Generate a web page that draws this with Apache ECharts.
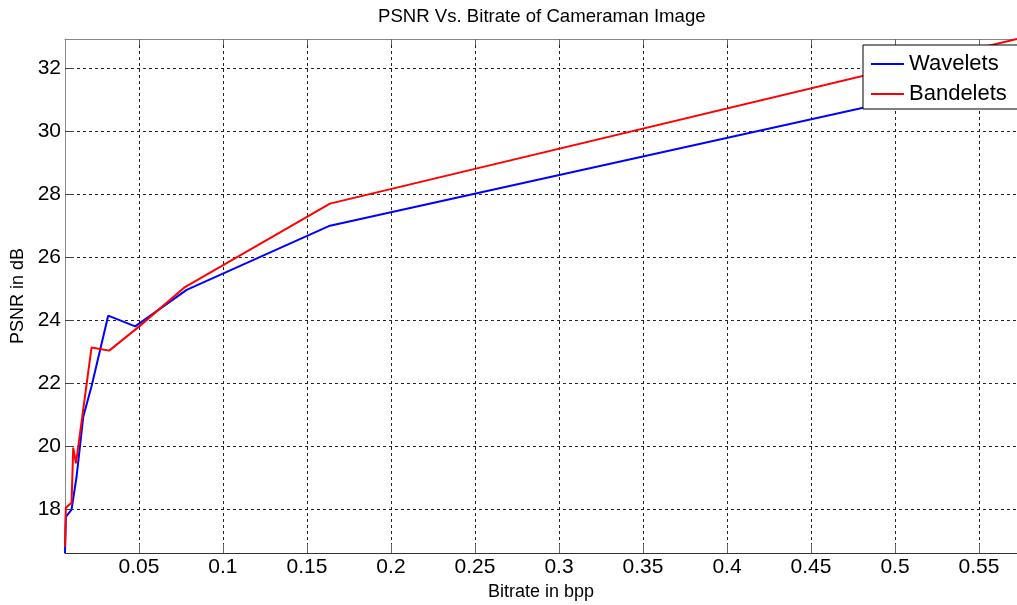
<!DOCTYPE html>
<html lang='en'>
<head>
  <meta charset='UTF-8'>
  <title>PSNR Vs. Bitrate</title>
  <script src="https://cdn.jsdelivr.net/npm/echarts@6/dist/echarts.min.js"></script>
  <style>
    html, body { margin: 0; padding: 0; background: #fff; }
  </style>
</head>
<body>
<div id="main" style="width: 1017px; height: 605px;"></div>
<script>
  // bitrate (bpp) / PSNR (dB)
  const waveletsX = [0.006, 0.0065, 0.0099, 0.0129, 0.0169, 0.0218, 0.0317, 0.0478, 0.0784, 0.1637, 0.5726]
  const waveletsY = [16.6, 17.75, 17.98, 19.03, 20.94, 21.9, 24.14, 23.8, 24.96, 27.0, 31.83]
  const bandeletsX = [0.006, 0.0065, 0.0099, 0.0109, 0.0125, 0.0139, 0.0218, 0.0323, 0.0502, 0.0774, 0.1637, 0.5726]
  const bandeletsY = [16.8, 18.04, 18.2, 19.95, 19.45, 19.99, 23.13, 23.03, 23.8, 25.05, 27.7, 32.93]
  const xTicks = [0.05, 0.1, 0.15, 0.2, 0.25, 0.3, 0.35, 0.4, 0.45, 0.5, 0.55]
  const yTicks = [18, 20, 22, 24, 26, 28, 30, 32]

  const zip = (xs, ys) => xs.map((x, i) => [x, ys[i]])
  const font = 'Liberation Sans, Arial, sans-serif'
  const gridLine = { show: true, lineStyle: { color: '#222', type: [3, 3], width: 1 } }

  var myChart = echarts.init(document.getElementById('main'));
  var option = {
    animation: false,
    backgroundColor: '#fff',
    title: {
      text: 'PSNR Vs. Bitrate of Cameraman Image',
      left: 378,
      top: 7,
      padding: 0,
      textStyle: { fontFamily: font, fontSize: 18.6, fontWeight: 'normal', color: '#000' }
    },
    legend: {
      orient: 'vertical',
      left: 863,
      top: 45,
      width: 160,
      padding: [8, 20, 4, 8],
      itemWidth: 33,
      itemHeight: 2,
      itemGap: 8,
      backgroundColor: '#fff',
      borderColor: '#000',
      borderWidth: 1,
      borderRadius: 0,
      icon: 'rect',
      textStyle: { fontFamily: font, fontSize: 22, color: '#000' },
      data: ['Wavelets', 'Bandelets']
    },
    grid: { left: 65, right: 0, top: 39, bottom: 52, containLabel: false, outerBoundsMode: 'none' },
    xAxis: [{
      type: 'value',
      min: 0.006,
      max: 0.5726,
      name: 'Bitrate in bpp',
      nameLocation: 'middle',
      nameGap: 29,
      nameTextStyle: { fontFamily: font, fontSize: 18, color: '#000' },
      axisLine: { lineStyle: { color: '#333', width: 1 } },
      axisTick: { inside: true, length: 9, customValues: xTicks, lineStyle: { color: '#666' } },
      axisLabel: { customValues: xTicks, fontFamily: font, fontSize: 21, color: '#000', margin: 4 },
      splitLine: gridLine
    }, {
      type: 'value',
      position: 'top',
      min: 0.006,
      max: 0.5726,
      axisLine: { show: true, lineStyle: { color: '#888', width: 1 } },
      axisTick: { inside: true, length: 6, customValues: xTicks, lineStyle: { color: '#666' } },
      axisLabel: { show: false },
      splitLine: { show: false }
    }],
    yAxis: {
      type: 'value',
      min: 16.6,
      max: 32.93,
      name: 'PSNR in dB',
      nameLocation: 'middle',
      nameGap: 32,
      nameTextStyle: { fontFamily: font, fontSize: 18, color: '#000' },
      axisLine: { show: true, lineStyle: { color: '#888', width: 1 } },
      axisTick: { show: true, inside: true, length: 9, customValues: yTicks, lineStyle: { color: '#444' } },
      axisLabel: { customValues: yTicks, fontFamily: font, fontSize: 21, color: '#000', margin: 4 },
      splitLine: gridLine
    },
    series: [
      {
        name: 'Wavelets',
        type: 'line',
        data: zip(waveletsX, waveletsY),
        showSymbol: false,
        color: '#0000ff',
        lineStyle: { width: 2, color: '#0000ff' }
      },
      {
        name: 'Bandelets',
        type: 'line',
        data: zip(bandeletsX, bandeletsY),
        showSymbol: false,
        color: '#ff0000',
        lineStyle: { width: 2, color: '#ff0000' }
      }
    ]
  };
  myChart.setOption(option);
</script>
</body>
</html>
